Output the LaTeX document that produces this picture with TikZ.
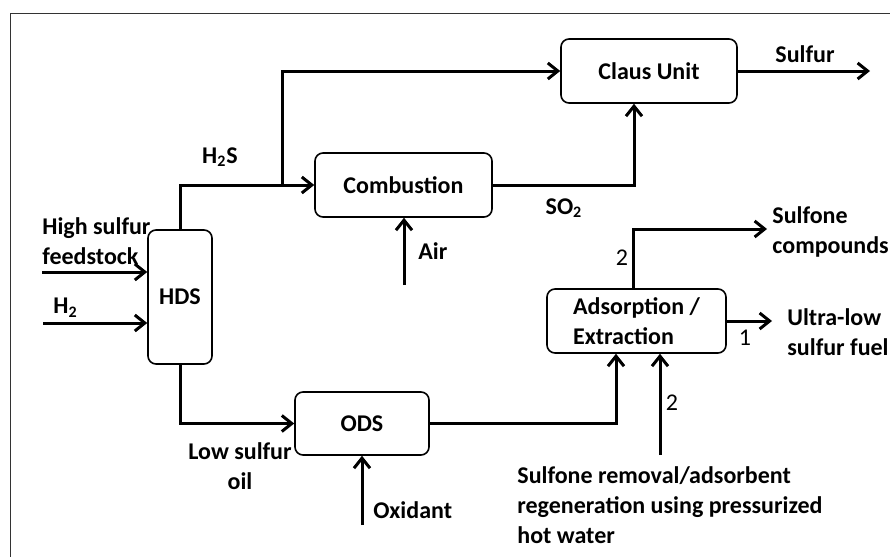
\documentclass[tikz,border=0pt]{standalone}
\usepackage{fontspec}
\setmainfont{Carlito}
\usetikzlibrary{arrows.meta}

\newcommand\diagsize{\fontsize{12}{15}\selectfont}

\tikzset{
    unit/.style={draw, line width=0.8pt, rounded corners=4pt, align=center, font=\diagsize\bfseries},
    flow/.style={line width=1.5pt, -{Straight Barb[length=5pt, width=8pt]}},
    tag/.style={inner sep=0pt, align=left, font=\diagsize\bfseries},
    num/.style={inner sep=0pt, font=\diagsize}
}

\begin{document}
\begin{tikzpicture}[x=0.5pt, y=-0.5pt]
            \useasboundingbox (0, 0) rectangle (890, 557);
            \draw[line width=0.5pt, black!80] (10, 557) -- (10, 13) -- (890, 13);

            \node[unit, minimum width=32pt, minimum height=67pt] (hds) at (180, 297) {HDS};
            \node[unit, minimum width=88.5pt, minimum height=32pt] (comb) at (403.5, 185) {Combustion};
            \node[unit, minimum width=88pt, minimum height=32pt] (claus) at (649, 71) {Claus Unit};
            \node[unit, minimum width=67pt, minimum height=31.5pt] (ods) at (362, 423.5) {ODS};
            \node[unit, minimum width=89.5pt, minimum height=32pt, align=left] (ads) at (636.5, 321) {Adsorption /\\Extraction};

            \coordinate (feedin) at (42, 272);
            \coordinate (hin) at (43, 323);
            \coordinate (split) at (282, 185);
            \coordinate (airin) at (404, 285);
            \coordinate (oxin) at (362, 525);
            \coordinate (waterin) at (660, 455);
            \coordinate (sulfurend) at (870, 71);
            \coordinate (sulfoneend) at (767, 229);
            \coordinate (fuelend) at (772, 321);

            \draw[flow] (feedin) -- (feedin -| hds.west);
            \draw[flow] (hin) -- (hin -| hds.west);
            \draw[flow] (hds.north) |- (comb.west);
            \draw[flow] (split) |- (claus.west);
            \draw[flow] (comb.east) -| ([xshift=-7.5pt]claus.south);
            \draw[flow] (claus.east) -- (sulfurend);
            \draw[flow] (airin) -- (airin |- comb.south);
            \draw[flow] (hds.south) |- (ods.west);
            \draw[flow] (oxin) -- (ods.south);
            \draw[flow] (ods.east) -| ([xshift=-10.25pt]ads.south);
            \draw[flow] (waterin) -- (waterin |- ads.south);
            \draw[flow] ([xshift=-1.75pt]ads.north) |- (sulfoneend);
            \draw[flow] (ads.east) -- (fuelend);

            \node[tag, anchor=west] (feedlabel) at (42, 241) {High sulfur\\feedstock};
            \node[tag, anchor=west] (hlabel) at (53, 308) {H\textsubscript{2}};
            \node[tag] (h2slabel) at (220, 157) {H\textsubscript{2}S};
            \node[tag] (so2label) at (564, 208) {SO\textsubscript{2}};
            \node[tag] (sulfurlabel) at (805, 54) {Sulfur};
            \node[tag, anchor=west] (airlabel) at (418, 251) {Air};
            \node[tag, align=center] (oillabel) at (240, 466) {Low sulfur\\oil};
            \node[tag, anchor=west] (oxlabel) at (373, 510) {Oxidant};
            \node[tag, anchor=west] (sulfonelabel) at (772, 232) {Sulfone\\compounds};
            \node[tag, anchor=west] (fuellabel) at (787, 332) {Ultra-low\\sulfur fuel};
            \node[tag, anchor=west] (waterlabel) at (517, 505) {Sulfone removal/adsorbent\\regeneration using pressurized\\hot water};

            \node[num] (n1) at (745, 338) {1};
            \node[num] (n2a) at (622, 258) {2};
            \node[num] (n2b) at (672, 403) {2};
        \end{tikzpicture}
\end{document}
